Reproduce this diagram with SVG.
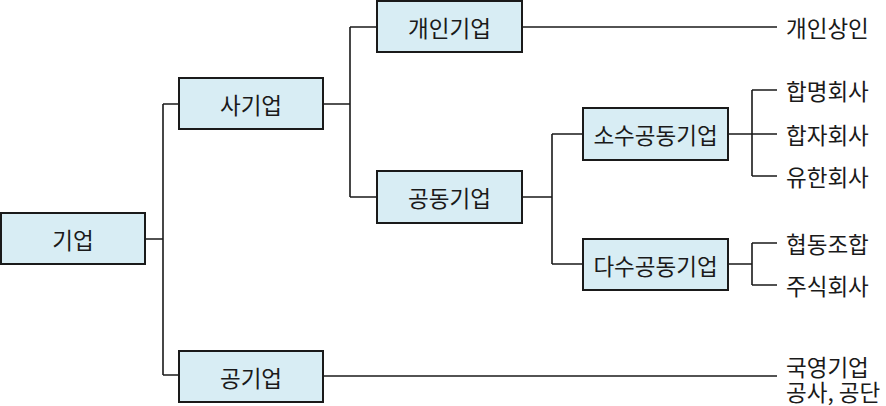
<svg xmlns="http://www.w3.org/2000/svg" width="886" height="406" viewBox="0 0 886 406">
<style>
.box{fill:#d8edf4;stroke:#1a1a1a;stroke-width:2}
.t{font-family:"Noto Sans CJK KR","Noto Sans",sans-serif;font-size:22.5px;fill:#1a1a1a;dominant-baseline:central}
.c{text-anchor:middle}
.ln{fill:none;stroke:#1a1a1a;stroke-width:1.6}
</style>
<rect width="886" height="406" fill="#ffffff"/>
<g id="connectors" class="ln">
<path d="M145 239H163M163 104V375M163 104H179M163 375H179"/>
<path d="M323 104H350M350 27V197M350 27H377M350 197H377"/>
<path d="M522 27H777"/>
<path d="M522 197H552M552 134V264M552 134H583M552 264H583"/>
<path d="M728 134H777M752 90V176M752 90H777M752 176H777"/>
<path d="M728 264H752M752 243V285M752 243H777M752 285H777"/>
<path d="M323 376H777"/>
</g>
<g id="n-giup"><rect class="box" x="1" y="213" width="144" height="51"/><text class="t c" x="73" y="239">기업</text></g>
<g id="n-sagiup"><rect class="box" x="179" y="78" width="144" height="51"/><text class="t c" x="251" y="104">사기업</text></g>
<g id="n-gonggiup"><rect class="box" x="179" y="351" width="144" height="51"/><text class="t c" x="251" y="377">공기업</text></g>
<g id="n-gaein"><rect class="box" x="377" y="1" width="145" height="51"/><text class="t c" x="449.5" y="27">개인기업</text></g>
<g id="n-gongdong"><rect class="box" x="377" y="171" width="145" height="52"/><text class="t c" x="449.5" y="197">공동기업</text></g>
<g id="n-sosu"><rect class="box" x="583" y="108" width="145" height="52"/><text class="t c" x="655.5" y="134">소수공동기업</text></g>
<g id="n-dasu"><rect class="box" x="583" y="239" width="145" height="51"/><text class="t c" x="655.5" y="265">다수공동기업</text></g>
<g id="l-gaeinsangin"><text class="t" x="786" y="27">개인상인</text></g>
<g id="l-hapmyeong"><text class="t" x="786" y="90">합명회사</text></g>
<g id="l-hapja"><text class="t" x="786" y="134">합자회사</text></g>
<g id="l-yuhan"><text class="t" x="786" y="176">유한회사</text></g>
<g id="l-hyeopdong"><text class="t" x="786" y="243">협동조합</text></g>
<g id="l-jusik"><text class="t" x="786" y="285">주식회사</text></g>
<g id="l-gukyeong"><text class="t" x="786" y="366"><tspan x="786" y="366">국영기업</tspan><tspan x="786" y="391">공사, 공단</tspan></text></g>
</svg>
